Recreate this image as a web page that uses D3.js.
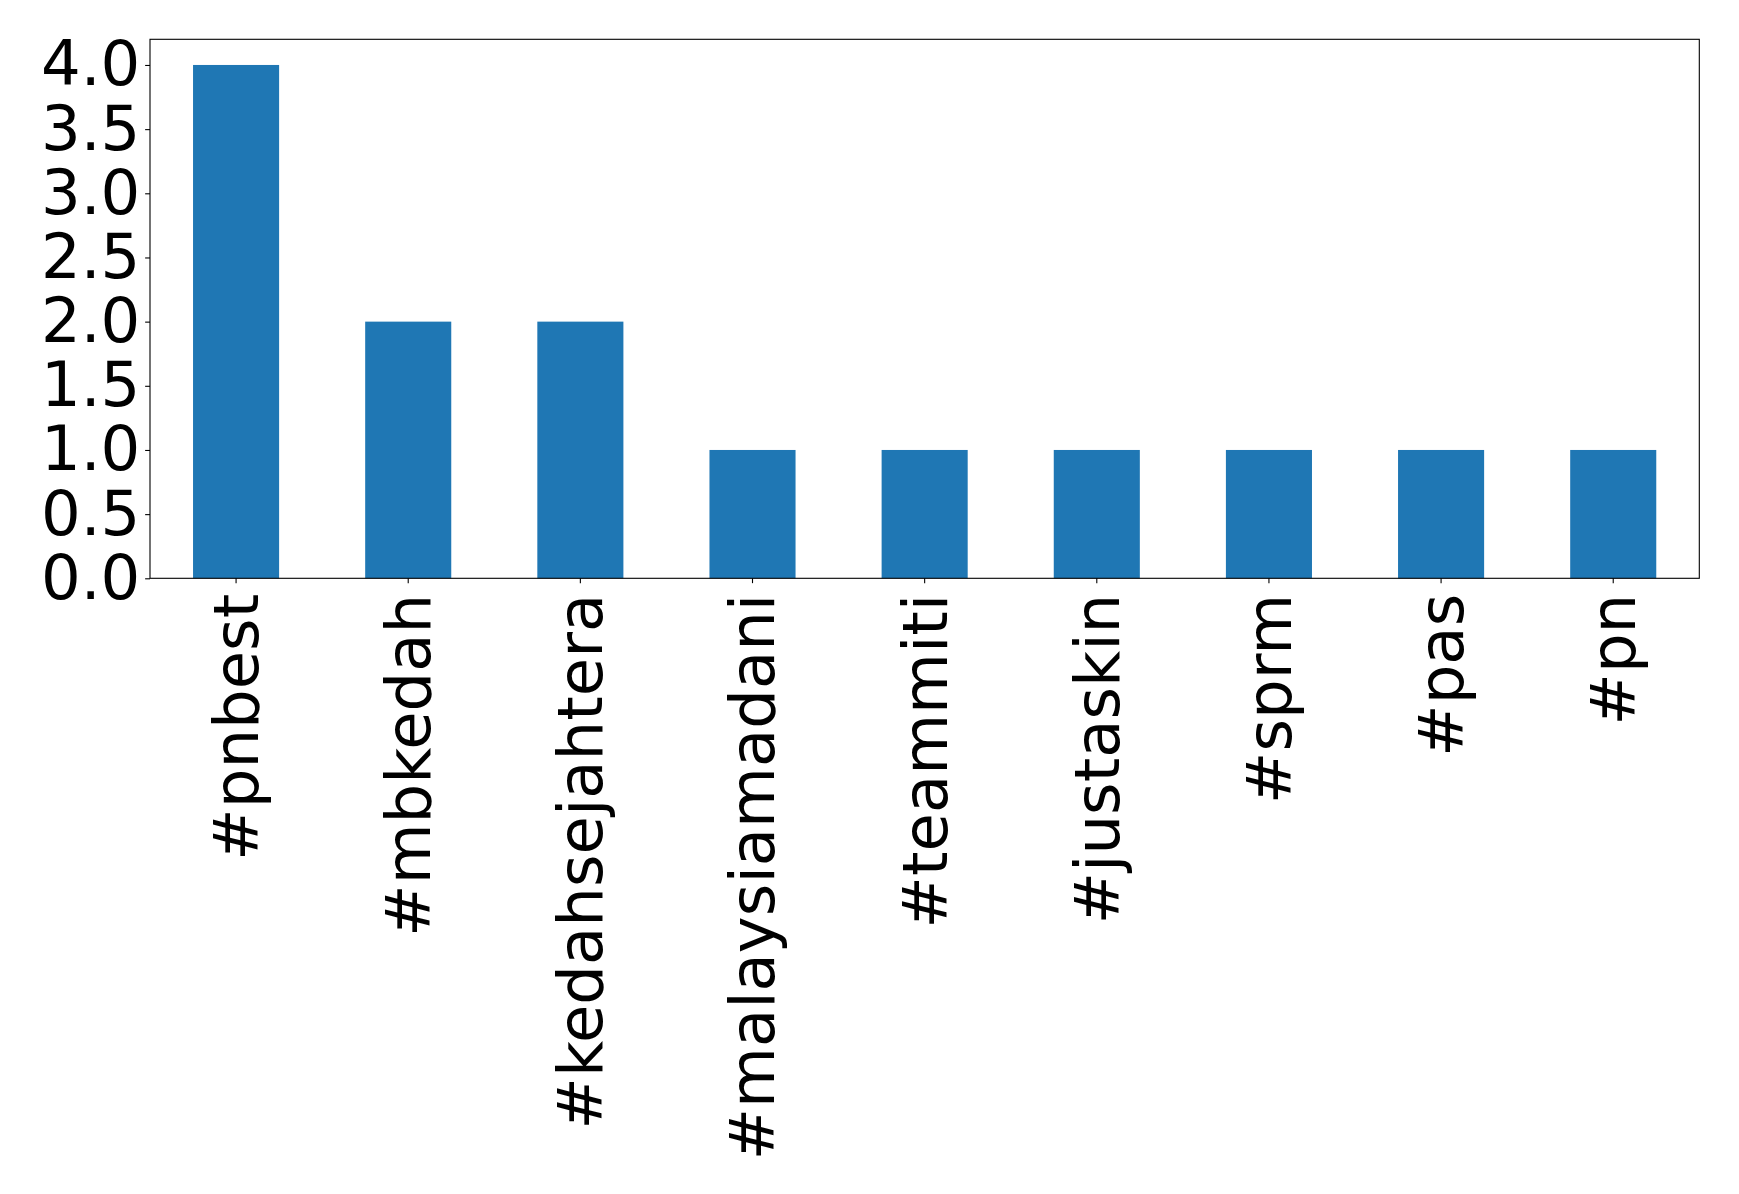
<!DOCTYPE html>
<html><head><meta charset="utf-8">
<script src="https://cdn.jsdelivr.net/npm/d3@7"></script>
<style>body{margin:0;background:#fff}svg{display:block}</style>
</head><body>
<script>
const categories = ["#pnbest","#mbkedah","#kedahsejahtera","#malaysiamadani","#teammiti","#justaskin","#sprm","#pas","#pn"];
const values = [4,2,2,1,1,1,1,1,1];
const yTicks = [0,0.5,1,1.5,2,2.5,3,3.5,4];

(function(){
const W = 1739, H = 1194;
const mL = 150, mR = 1699.3, mT = 39.3, mB = 578.3;
const fs = 62.5;

const svg = d3.select("body").append("svg").attr("width", W).attr("height", H);

const x = d3.scaleLinear().domain([-0.5, categories.length - 0.5]).range([mL, mR]);
const y = d3.scaleLinear().domain([0, 4.2]).range([mB, mT]);

svg.append("g").selectAll("rect").data(values).join("rect")
  .attr("x", (d,i) => x(i - 0.25))
  .attr("width", (d,i) => x(i + 0.25) - x(i - 0.25))
  .attr("y", d => y(d))
  .attr("height", d => y(0) - y(d))
  .attr("fill", "#1f77b4");

const yAxis = d3.axisLeft(y).tickValues(yTicks).tickFormat(d3.format(".1f")).tickSize(4.86).tickPadding(4.86);
const gy = svg.append("g").attr("transform", `translate(${mL},0)`).call(yAxis);
gy.select(".domain").remove();
gy.selectAll("text").attr("font-family","DejaVu Sans").attr("font-size", fs).attr("fill","#000");
gy.selectAll("line").attr("stroke","#000").attr("stroke-width",1.1);

const xs = d3.scaleBand().domain(categories).range([x(-0.5), x(categories.length - 0.5)]);
const xAxis = d3.axisBottom(xs).tickSize(4.86).tickPadding(0);
const gx = svg.append("g").attr("transform", `translate(0,${mB})`).call(xAxis);
gx.select(".domain").remove();
gx.selectAll("line").attr("stroke","#000").attr("stroke-width",1.1);
gx.selectAll("text")
  .attr("font-family","DejaVu Sans").attr("font-size", fs).attr("fill","#000")
  .attr("text-anchor","end")
  .attr("transform","translate(0,15.5) rotate(-90)")
  .attr("x",0).attr("y",0).attr("dy","0.35em");

svg.append("rect").attr("x", mL).attr("y", mT).attr("width", mR-mL).attr("height", mB-mT)
  .attr("fill","none").attr("stroke","#000").attr("stroke-width",1.1);
})();
</script>
</body></html>
